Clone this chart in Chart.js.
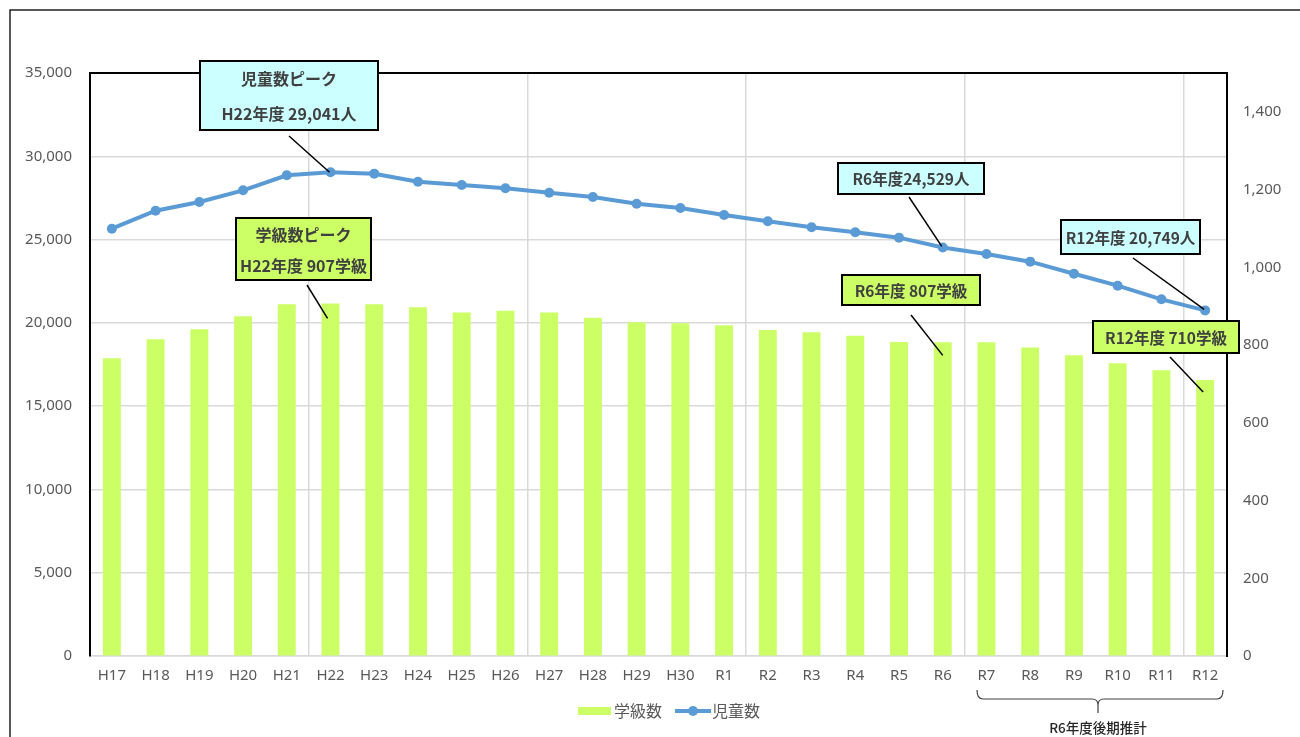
<!DOCTYPE html>
<html lang="ja">
<head>
<meta charset="utf-8">
<title>児童数・学級数の推移</title>
<script src="https://cdn.jsdelivr.net/npm/chart.js@4.4.0/dist/chart.umd.min.js"></script>
<style>
  html, body { margin: 0; padding: 0; background: #fff; }
  #chart { display: block; }
</style>
</head>
<body>
<canvas id="chart" width="1300" height="737"></canvas>
<script>
// 年度
const categories = ['H17', 'H18', 'H19', 'H20', 'H21', 'H22', 'H23', 'H24', 'H25', 'H26', 'H27', 'H28', 'H29', 'H30',
    'R1', 'R2', 'R3', 'R4', 'R5', 'R6', 'R7', 'R8', 'R9', 'R10', 'R11', 'R12'];

// 学級数 (右軸)
const classCounts = [766, 815, 841, 874, 905, 907, 905, 897, 884, 888, 884, 870, 859, 856,
    851, 839, 833, 824, 808, 807, 807, 794, 774, 753, 735, 710];

// 児童数 (左軸)
const studentCounts = [25653, 26733, 27256, 27957, 28857, 29041, 28957, 28475, 28276, 28077, 27814, 27556, 27155, 26895,
    26475, 26097, 25736, 25436, 25115, 24529, 24134, 23674, 22951, 22231, 21413, 20749];

const leftTicks = [0, 5000, 10000, 15000, 20000, 25000, 30000, 35000];
const rightTicks = [0, 200, 400, 600, 800, 1000, 1200, 1400];

const BAR_COLOR = '#CCFF66';
const LINE_COLOR = '#5B9BD5';
const TEXT_COLOR = '#595959';
const GRID_COLOR = '#D9D9D9';
const JP_FONT = "'Noto Sans CJK JP', 'Noto Sans', sans-serif";
const TICK_FONT = "'Noto Sans', 'Noto Sans CJK JP', sans-serif";

// callout boxes: box = [x, y, w, h], from = leader start, to = [dataset, index, dx, dy]
const callouts = [
    { lines: ['児童数ピーク', 'H22年度 29,041人'], fill: '#CCFFFF', box: [200, 61, 178, 69], from: [289, 136], to: [1, 5, -1, 0] },
    { lines: ['学級数ピーク', 'H22年度 907学級'], fill: BAR_COLOR, box: [236, 218, 135, 62], from: [307, 285], to: [0, 5, -3, 15] },
    { lines: ['R6年度24,529人'], fill: '#CCFFFF', box: [838, 163, 146, 31], from: [909, 197], to: [1, 19, -1, -1] },
    { lines: ['R6年度 807学級'], fill: BAR_COLOR, box: [842, 275, 138, 30], from: [911, 315], to: [0, 19, 0, 13] },
    { lines: ['R12年度 20,749人'], fill: '#CCFFFF', box: [1061, 220, 139, 34], from: [1133, 258], to: [1, 25, -1, -1] },
    { lines: ['R12年度 710学級'], fill: BAR_COLOR, box: [1093, 321, 146, 32], from: [1170, 357], to: [0, 25, -2, 12] }
];

const annotationPlugin = {
    id: 'annotations',
    beforeDraw(chart) {
        const ctx = chart.ctx;
        ctx.save();
        ctx.fillStyle = '#fff';
        ctx.fillRect(0, 0, chart.width, chart.height);
        // outer frame
        ctx.strokeStyle = '#222';
        ctx.lineWidth = 1.5;
        ctx.strokeRect(10, 10, 1400, 900);
        ctx.restore();
    },
    afterDraw(chart) {
        const ctx = chart.ctx;
        ctx.save();

        // leader lines + boxes
        callouts.forEach(c => {
            const el = chart.getDatasetMeta(c.to[0]).data[c.to[1]];
            ctx.strokeStyle = '#000';
            ctx.lineWidth = 1.5;
            ctx.beginPath();
            ctx.moveTo(c.from[0], c.from[1]);
            ctx.lineTo(el.x + c.to[2], el.y + c.to[3]);
            ctx.stroke();

            const [x, y, w, h] = c.box;
            ctx.fillStyle = c.fill;
            ctx.fillRect(x, y, w, h);
            ctx.lineWidth = 2;
            ctx.strokeRect(x, y, w, h);

            ctx.fillStyle = '#404040';
            ctx.font = 'bold ' + (c.lines.length > 1 ? 16 : 15.5) + 'px ' + JP_FONT;
            ctx.textAlign = 'center';
            ctx.textBaseline = 'middle';
            const step = h / c.lines.length;
            c.lines.forEach((t, i) => {
                ctx.fillText(t, x + w / 2, y + step * (i + 0.5) + 1);
            });
        });

        // bracket under R7 - R12
        ctx.strokeStyle = '#404040';
        ctx.lineWidth = 1.2;
        ctx.beginPath();
        ctx.moveTo(977, 690);
        ctx.quadraticCurveTo(977, 699, 983, 699);
        ctx.lineTo(1092, 699);
        ctx.quadraticCurveTo(1098, 699, 1098, 705);
        ctx.lineTo(1098, 713);
        ctx.moveTo(1098, 705);
        ctx.quadraticCurveTo(1098, 699, 1104, 699);
        ctx.lineTo(1217, 699);
        ctx.quadraticCurveTo(1223, 699, 1223, 690);
        ctx.stroke();

        ctx.fillStyle = '#262626';
        ctx.font = '500 13.5px ' + JP_FONT;
        ctx.textAlign = 'center';
        ctx.textBaseline = 'middle';
        ctx.fillText('R6年度後期推計', 1098, 728);

        // legend
        ctx.font = '16px ' + JP_FONT;
        ctx.textAlign = 'left';
        ctx.fillStyle = BAR_COLOR;
        ctx.fillRect(578, 707, 33, 8);
        ctx.fillStyle = TEXT_COLOR;
        ctx.fillText(chart.data.datasets[0].label, 614, 711);

        ctx.strokeStyle = LINE_COLOR;
        ctx.lineWidth = 4;
        ctx.beginPath();
        ctx.moveTo(675, 711);
        ctx.lineTo(711, 711);
        ctx.stroke();
        ctx.fillStyle = LINE_COLOR;
        ctx.beginPath();
        ctx.arc(693, 711, 5, 0, Math.PI * 2);
        ctx.fill();
        ctx.fillStyle = TEXT_COLOR;
        ctx.fillText(chart.data.datasets[1].label, 712, 711);

        ctx.restore();
    }
};

const ctx = document.getElementById('chart').getContext('2d');

new Chart(ctx, {
    type: 'bar',
    data: {
        labels: categories,
        datasets: [
            {
                type: 'bar',
                label: '学級数',
                data: classCounts,
                yAxisID: 'yR',
                xAxisID: 'x',
                backgroundColor: BAR_COLOR,
                borderWidth: 0,
                barPercentage: 0.41,
                categoryPercentage: 1,
                order: 2
            },
            {
                type: 'line',
                label: '児童数',
                data: studentCounts,
                yAxisID: 'y',
                xAxisID: 'x',
                borderColor: LINE_COLOR,
                backgroundColor: LINE_COLOR,
                borderWidth: 4,
                pointRadius: 5,
                pointBackgroundColor: LINE_COLOR,
                pointBorderWidth: 0,
                tension: 0,
                order: 1
            }
        ]
    },
    options: {
        responsive: false,
        animation: false,
        devicePixelRatio: 1,
        layout: {
            padding: { top: 73, left: 10, right: 0, bottom: 41 }
        },
        plugins: {
            legend: { display: false },
            tooltip: { enabled: false }
        },
        scales: {
            x: {
                type: 'category',
                position: 'bottom',
                grid: { display: false, drawTicks: false },
                border: { color: GRID_COLOR, width: 1.5 },
                ticks: {
                    color: TEXT_COLOR,
                    font: { family: TICK_FONT, size: 15 },
                    padding: 11,
                    maxRotation: 0,
                    autoSkip: false
                },
                afterFit(axis) { axis.height = 40; }
            },
            x2: {
                type: 'linear',
                position: 'top',
                offset: false,
                min: 0,
                max: 5.2,
                grid: { color: GRID_COLOR, lineWidth: 1.5, drawTicks: false, offset: false },
                border: { color: '#000', width: 2 },
                ticks: { display: false, stepSize: 1 },
                afterBuildTicks(axis) {
                    axis.ticks = [0, 1, 2, 3, 4, 5].map(v => ({ value: v }));
                },
                afterFit(axis) { axis.height = 0; }
            },
            y: {
                type: 'linear',
                position: 'left',
                min: leftTicks[0],
                max: leftTicks[leftTicks.length - 1],
                grid: { color: GRID_COLOR, lineWidth: 1.5, drawTicks: false },
                border: { color: '#000', width: 2 },
                ticks: {
                    stepSize: 5000,
                    color: TEXT_COLOR,
                    font: { family: TICK_FONT, size: 15 },
                    padding: 18,
                    callback: v => v.toLocaleString('en-US')
                },
                afterBuildTicks(axis) {
                    axis.ticks = leftTicks.map(v => ({ value: v }));
                },
                afterFit(axis) { axis.width = 80; }
            },
            yR: {
                type: 'linear',
                position: 'right',
                min: 0,
                max: 1500,
                grid: { display: true, drawOnChartArea: false, drawTicks: false },
                border: { color: '#000', width: 2 },
                ticks: {
                    stepSize: 200,
                    color: TEXT_COLOR,
                    font: { family: TICK_FONT, size: 15 },
                    padding: 16,
                    callback: v => v.toLocaleString('en-US')
                },
                afterBuildTicks(axis) {
                    axis.ticks = rightTicks.map(v => ({ value: v }));
                },
                afterFit(axis) { axis.width = 73; }
            }
        }
    },
    plugins: [annotationPlugin]
});
</script>
</body>
</html>
